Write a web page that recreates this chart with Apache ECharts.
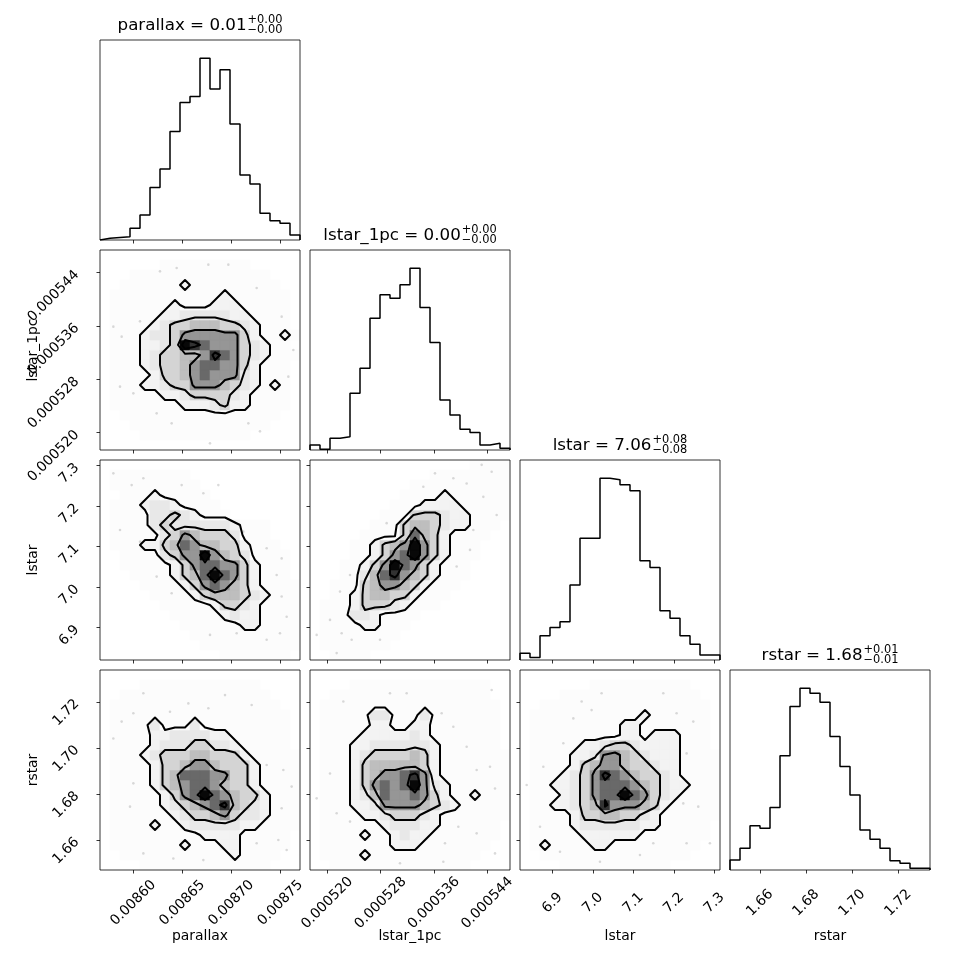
<!DOCTYPE html>
<html lang="en">
<head>
<meta charset="UTF-8">
<title>corner plot</title>
<script src="https://cdn.jsdelivr.net/npm/echarts@6/dist/echarts.min.js"></script>
<style>
    html, body {margin: 0; padding: 0; background: #fff;}
    #main {width: 970px; height: 970px;}
</style>
</head>
<body>
<div id="main"></div>
<script type="text/javascript">
// ---- parameters ----
var paramNames = ['parallax', 'lstar_1pc', 'lstar', 'rstar'];
var paramRanges = [[0.008566, 0.008770], [0.0005174, 0.0005474], [6.820, 7.314], [1.647, 1.7338]];
var paramTicks = [
    [0.00860, 0.00865, 0.00870, 0.00875],
    [0.000520, 0.000528, 0.000536, 0.000544],
    [6.9, 7.0, 7.1, 7.2, 7.3],
    [1.66, 1.68, 1.70, 1.72]
];
var tickDecimals = [5, 6, 1, 2];
var titleValues = ['0.01', '0.00', '7.06', '1.68'];
var titlePlus = ['0.00', '0.00', '0.08', '0.01'];
var titleMinus = ['0.00', '0.00', '0.08', '0.01'];

// ---- 1d histograms (20 bins over the range) ----
var histParallax = [2, 3, 4, 14, 30, 63, 85, 130, 165, 172, 218, 181, 204, 139, 78, 67, 32, 23, 20, 6];
var histLstar1pc = [6, 1, 14, 16, 68, 98, 158, 186, 182, 198, 218, 171, 129, 60, 42, 25, 21, 6, 8, 2];
var histLstar = [8, 3, 29, 39, 46, 90, 146, 146, 218, 216, 210, 203, 119, 111, 59, 50, 29, 19, 6, 6];
var histRstar = [12, 26, 53, 50, 75, 137, 196, 218, 212, 201, 160, 124, 90, 48, 37, 26, 11, 8, 2, 2];

// ---- 2d histograms, 20x20, rows listed top (high y) to bottom, density level 0-9 ----
var gridParallaxLstar1pc = [
    "00000000000000000000",
    "00000011111111100000",
    "00011111111111111000",
    "00111111211111111100",
    "01111111111121111110",
    "01111112111222111110",
    "01111122333332211110",
    "01111234455544321110",
    "01112334666666421121",
    "01112234987666432110",
    "01112344556876432111",
    "01112344567766421110",
    "01111244567666321110",
    "01112234466654321210",
    "01111122344443211110",
    "01111111222342211110",
    "00111111111111111100",
    "00011111111111111000",
    "00001111111111100000",
    "00000000000000000000"
];
var gridParallaxLstar = [
    "00000000000000000000",
    "01111111100000000000",
    "01111111110000000000",
    "00111211111000000000",
    "01112332111100000000",
    "01111334321110000000",
    "01111343333332111000",
    "01111134654443111000",
    "01112245765544211100",
    "00111134669654311110",
    "00111112467766421110",
    "00011112457976421110",
    "00001111246765421111",
    "00000111124555432111",
    "00000011111244321111",
    "00000001111123221111",
    "00000000111111221111",
    "00000000011111111111",
    "00000000001111111111",
    "00000000000011111110"
];
var gridLstar1pcLstar = [
    "00000000000000001111",
    "00000000000011111111",
    "00000000001111111111",
    "00000000011112111111",
    "00000000111222211111",
    "00000001114443221111",
    "00000011145543221110",
    "00000111147542111100",
    "00001124569642111000",
    "00001124679642111000",
    "00011246976421110000",
    "00011357865421110000",
    "00111456654211100000",
    "00112455442111000000",
    "01112444321110000000",
    "01113321111000000000",
    "01111221110000000000",
    "01111111100000000000",
    "01111111000000000000",
    "00111100000000000000"
];
var gridParallaxRstar = [
    "00000000000000000000",
    "00001111111111110000",
    "00111111111111111000",
    "01111111111111111100",
    "01111111111111111110",
    "01111311131111111110",
    "01111223333221111110",
    "01111233344332111110",
    "01112344455444211111",
    "01111244566544421111",
    "01111245777664421111",
    "01111245677654421111",
    "01111124679765442111",
    "01111123456785432111",
    "01111112344564332111",
    "01111211233333221111",
    "01111111112222111110",
    "01111111211122111110",
    "00111111111112111100",
    "00001111111111111000"
];
var gridLstar1pcRstar = [
    "00000000000000000000",
    "00001111111111111100",
    "00111111111111111100",
    "01111111111111111110",
    "01111133111311111110",
    "01111122112211111110",
    "01111222223211111110",
    "01112233333321111110",
    "01112344445421111111",
    "01112455555421111111",
    "01112456678621111111",
    "01112467679632111111",
    "01112357667642112111",
    "01112236666543211111",
    "01111223444321111111",
    "01111112333221111110",
    "01111211232211111110",
    "01111111222111111100",
    "01111211111111111000",
    "00111111111111110000"
];
var gridLstarRstar = [
    "00000000000000000000",
    "00000001111111111000",
    "00001111111111111100",
    "00111111111111111110",
    "01111111111121111110",
    "01111111112211111110",
    "01111111112212221110",
    "01111122344322221110",
    "01111223665432221111",
    "01111245665443221111",
    "01112346876544321111",
    "01122346777654322111",
    "01112346779764321111",
    "01122345866654211111",
    "01111244554432111111",
    "01111233333322111110",
    "01111122222211111110",
    "01211112211111111100",
    "00111111111111111000",
    "00001111111111100000"
];

// ---- stray samples outside the outer contour, [x, y] in data units ----
var dotsParallaxLstar1pc = [
    [0.0086272, 0.0005442], [0.0086442, 0.0005447], [0.0086765, 0.0005452], [0.0086969, 0.0005452],
    [0.0086068, 0.0005367], [0.0085796, 0.0005359], [0.0085881, 0.0005344], [0.0087513, 0.0005374],
    [0.0087632, 0.0005324], [0.0087581, 0.0005284], [0.0087479, 0.0005269], [0.0085864, 0.0005269],
    [0.0086000, 0.0005259], [0.0086238, 0.0005229], [0.0086391, 0.0005214], [0.0086782, 0.0005184],
    [0.0087173, 0.0005214], [0.0087292, 0.0005202], [0.0087258, 0.0005417]
];
var dotsParallaxLstar = [
    [0.0085796, 7.281], [0.0085983, 7.252], [0.0086102, 7.269], [0.0086493, 7.252], [0.0086714, 7.232],
    [0.0086867, 7.252], [0.0085864, 7.141], [0.0086068, 7.112], [0.0087122, 7.137], [0.0087360, 7.096],
    [0.0087513, 7.071], [0.0087462, 7.030], [0.0087513, 6.977], [0.0087564, 6.927], [0.0087496, 6.886],
    [0.0087360, 6.870], [0.0087054, 6.886], [0.0086782, 6.882], [0.0086391, 6.985], [0.0086238, 7.026]
];
var dotsLstar1pcLstar = [
    [0.00054315, 7.302], [0.00054465, 7.285], [0.00053615, 7.281], [0.0005389, 7.269], [0.0005344, 7.248],
    [0.0005409, 7.256], [0.0005434, 7.223], [0.0005454, 7.178], [0.0005419, 7.141], [0.0005414, 7.092],
    [0.0005394, 7.051], [0.0005289, 7.158], [0.0005234, 7.030], [0.0005219, 6.989], [0.0005204, 6.919],
    [0.0005184, 6.882], [0.00052215, 6.886], [0.00052365, 6.870], [0.0005279, 6.870], [0.0005214, 6.837]
];
var dotsParallaxRstar = [
    [0.0086102, 1.7237], [0.0086561, 1.7193], [0.0086765, 1.7172], [0.0086935, 1.7229], [0.0087207, 1.7186],
    [0.0086000, 1.7150], [0.0086374, 1.7157], [0.0085881, 1.7114], [0.0085796, 1.7041], [0.0087360, 1.6926],
    [0.0087530, 1.6904], [0.0087615, 1.6832], [0.0086000, 1.6846], [0.0085966, 1.6745], [0.0087513, 1.6738],
    [0.0087479, 1.6600], [0.0087564, 1.6557], [0.0086102, 1.6542], [0.0086408, 1.6520], [0.0086714, 1.6513],
    [0.0087258, 1.6586]
];
var dotsLstar1pcRstar = [
    [0.0005224, 1.7201], [0.0005294, 1.7237], [0.0005319, 1.7237], [0.00053715, 1.7150], [0.00054465, 1.7251],
    [0.0005389, 1.7092], [0.0005409, 1.7005], [0.0005444, 1.6918], [0.0005424, 1.6904], [0.00054515, 1.6824],
    [0.0005204, 1.6889], [0.0005184, 1.6781], [0.0005214, 1.6716], [0.0005234, 1.6680], [0.00053965, 1.6658],
    [0.0005424, 1.6629], [0.00054515, 1.6542], [0.00053765, 1.6586], [0.0005374, 1.6506], [0.0005309, 1.6499]
];
var dotsLstarRstar = [
    [7.0216, 1.7237], [6.9723, 1.7201], [6.9969, 1.7164], [7.1739, 1.7237], [7.2068, 1.7150],
    [7.2480, 1.7114], [6.9517, 1.7128], [6.9270, 1.7020], [6.8776, 1.6918], [6.8365, 1.6839],
    [7.2315, 1.6976], [7.2233, 1.6759], [7.2603, 1.6745], [7.2891, 1.6586], [7.2315, 1.6586],
    [7.1492, 1.6586], [7.1163, 1.6535], [7.0175, 1.6506], [6.9188, 1.6549], [6.8694, 1.6658]
];

var histList = [histParallax, histLstar1pc, histLstar, histRstar];
// [row, col, grid, dots]
var pairList = [
    [1, 0, gridParallaxLstar1pc, dotsParallaxLstar1pc],
    [2, 0, gridParallaxLstar, dotsParallaxLstar],
    [2, 1, gridLstar1pcLstar, dotsLstar1pcLstar],
    [3, 0, gridParallaxRstar, dotsParallaxRstar],
    [3, 1, gridLstar1pcRstar, dotsLstar1pcRstar],
    [3, 2, gridLstarRstar, dotsLstarRstar]
];
var cellShades = [255, 252, 243, 232, 212, 190, 150, 105, 50, 8];
var contourLevels = [1.5, 3.5, 5.5, 7.5];

var FONT = 'DejaVu Sans';
var PANEL = 200, GAP = 10, LEFT = 100, TOP = 40;

function shadeColor(v) {
    var g = cellShades[v];
    return 'rgb(' + g + ',' + g + ',' + g + ')';
}

// rows (top->bottom strings) -> V[i][j], i = x bin, j = y bin from bottom
function parseGrid(rows) {
    var n = rows.length, m = rows[0].length, V = [];
    for (var i = 0; i < m; i++) {
        V.push([]);
        for (var j = 0; j < n; j++) {
            V[i].push(parseInt(rows[n - 1 - j].charAt(i), 10) || 0);
        }
    }
    return V;
}

// marching squares on bin centres, padded with zeros
function contourLines(V, xr, yr, level) {
    var nx = V.length, ny = V[0].length;
    var dx = (xr[1] - xr[0]) / nx, dy = (yr[1] - yr[0]) / ny;
    function P(i, j) {
        i -= 1; j -= 1;
        if (i < 0 || j < 0 || i >= nx || j >= ny) return 0;
        return V[i][j];
    }
    function xc(i) { return xr[0] + (i - 0.5) * dx; }
    function yc(j) { return yr[0] + (j - 0.5) * dy; }
    function pt(key) {
        var p = key.split(','), i = +p[1], j = +p[2], a, b;
        if (p[0] === 'h') {
            a = P(i, j); b = P(i + 1, j);
            return [xc(i) + (level - a) / (b - a) * dx, yc(j)];
        }
        a = P(i, j); b = P(i, j + 1);
        return [xc(i), yc(j) + (level - a) / (b - a) * dy];
    }
    var segs = [];
    for (var i = 0; i <= nx; i++) {
        for (var j = 0; j <= ny; j++) {
            var a = P(i, j), b = P(i + 1, j), c = P(i + 1, j + 1), d = P(i, j + 1);
            var B = 'h,' + i + ',' + j, T = 'h,' + i + ',' + (j + 1);
            var L = 'v,' + i + ',' + j, R = 'v,' + (i + 1) + ',' + j;
            var k = (a >= level ? 1 : 0) | (b >= level ? 2 : 0) | (c >= level ? 4 : 0) | (d >= level ? 8 : 0);
            var mid = (a + b + c + d) / 4 >= level;
            switch (k) {
                case 1: case 14: segs.push([L, B]); break;
                case 2: case 13: segs.push([B, R]); break;
                case 3: case 12: segs.push([L, R]); break;
                case 4: case 11: segs.push([R, T]); break;
                case 6: case 9: segs.push([B, T]); break;
                case 7: case 8: segs.push([L, T]); break;
                case 5:
                    if (mid) { segs.push([B, R]); segs.push([T, L]); }
                    else { segs.push([L, B]); segs.push([R, T]); }
                    break;
                case 10:
                    if (mid) { segs.push([L, B]); segs.push([R, T]); }
                    else { segs.push([B, R]); segs.push([T, L]); }
                    break;
            }
        }
    }
    var byKey = {};
    segs.forEach(function (s, idx) {
        (byKey[s[0]] = byKey[s[0]] || []).push(idx);
        (byKey[s[1]] = byKey[s[1]] || []).push(idx);
    });
    var used = segs.map(function () { return false; });
    function extend(arr, atEnd) {
        while (true) {
            var key = atEnd ? arr[arr.length - 1] : arr[0];
            var nxt = (byKey[key] || []).filter(function (q) { return !used[q]; });
            if (!nxt.length) break;
            var q = nxt[0];
            used[q] = true;
            var other = segs[q][0] === key ? segs[q][1] : segs[q][0];
            if (atEnd) arr.push(other); else arr.unshift(other);
        }
    }
    var lines = [];
    for (var s = 0; s < segs.length; s++) {
        if (used[s]) continue;
        used[s] = true;
        var chain = [segs[s][0], segs[s][1]];
        extend(chain, true);
        extend(chain, false);
        lines.push(chain.map(pt));
    }
    return lines;
}

function fmt(p) {
    return function (v) { return v.toFixed(tickDecimals[p]); };
}

var grids = [], xAxes = [], yAxes = [], series = [];

function addGrid(row, col) {
    grids.push({
        left: LEFT + col * (PANEL + GAP), top: TOP + row * (PANEL + GAP),
        width: PANEL, height: PANEL,
        show: true, borderColor: '#000', borderWidth: 0.8,
        backgroundColor: 'rgba(0,0,0,0)', containLabel: false, outerBoundsMode: 'none', z: 10
    });
    return grids.length - 1;
}

function xAxisFor(g, p, labels) {
    return {
        type: 'value', gridIndex: g, min: paramRanges[p][0], max: paramRanges[p][1],
        axisLine: {show: false}, splitLine: {show: false},
        axisTick: {show: true, length: 3.5, lineStyle: {color: '#000', width: 0.8}, customValues: paramTicks[p]},
        axisLabel: {
            show: labels, customValues: paramTicks[p], rotate: 45, align: 'center', verticalAlign: 'middle',
            margin: 33, fontSize: 13.9, color: '#000', fontFamily: FONT, formatter: fmt(p)
        }
    };
}

function yAxisFor(g, p, labels) {
    return {
        type: 'value', gridIndex: g, min: paramRanges[p][0], max: paramRanges[p][1],
        axisLine: {show: false}, splitLine: {show: false},
        axisTick: {show: true, length: 3.5, lineStyle: {color: '#000', width: 0.8}, customValues: paramTicks[p]},
        axisLabel: {
            show: labels, customValues: paramTicks[p], rotate: 45, align: 'right', verticalAlign: 'middle',
            margin: 23, fontSize: 13.9, color: '#000', fontFamily: FONT, formatter: fmt(p)
        }
    };
}

// diagonal: 1d histograms
histList.forEach(function (counts, k) {
    var g = addGrid(k, k);
    var xr = paramRanges[k], n = counts.length, dx = (xr[1] - xr[0]) / n;
    var peak = Math.max.apply(null, counts);
    xAxes.push(xAxisFor(g, k, k === 3));
    yAxes.push({type: 'value', gridIndex: g, min: 0, max: 1.1 * peak, show: false});
    var data = [[xr[0], 0]];
    for (var i = 0; i < n; i++) data.push([xr[0] + i * dx, counts[i]]);
    data.push([xr[1], counts[n - 1]]);
    data.push([xr[1], 0]);
    series.push({
        type: 'line', xAxisIndex: g, yAxisIndex: g, data: data, step: 'end',
        symbol: 'none', lineStyle: {color: '#000', width: 1.5}, silent: true, z: 3
    });
});

// off-diagonal: 2d histograms with contours
pairList.forEach(function (pr) {
    var row = pr[0], col = pr[1];
    var g = addGrid(row, col);
    var xr = paramRanges[col], yr = paramRanges[row];
    xAxes.push(xAxisFor(g, col, row === 3));
    yAxes.push(yAxisFor(g, row, col === 0));
    var V = parseGrid(pr[2]);
    var nx = V.length, ny = V[0].length;
    var dx = (xr[1] - xr[0]) / nx, dy = (yr[1] - yr[0]) / ny;
    var cells = [];
    for (var i = 0; i < nx; i++) {
        for (var j = 0; j < ny; j++) {
            if (V[i][j] > 0) {
                cells.push([xr[0] + i * dx, xr[0] + (i + 1) * dx, yr[0] + j * dy, yr[0] + (j + 1) * dy, V[i][j]]);
            }
        }
    }
    series.push({
        type: 'custom', xAxisIndex: g, yAxisIndex: g, data: cells, clip: true, silent: true, z: 1,
        encode: {x: [0, 1], y: [2, 3]},
        renderItem: function (params, api) {
            var p0 = api.coord([api.value(0), api.value(3)]);
            var p1 = api.coord([api.value(1), api.value(2)]);
            var c = shadeColor(api.value(4));
            return {
                type: 'rect',
                shape: {x: p0[0], y: p0[1], width: p1[0] - p0[0], height: p1[1] - p0[1]},
                style: {fill: c, stroke: c, lineWidth: 0.6}
            };
        }
    });
    series.push({
        type: 'scatter', xAxisIndex: g, yAxisIndex: g, data: pr[3], symbol: 'circle', symbolSize: 2.6,
        itemStyle: {color: 'rgba(0,0,0,0.18)'}, silent: true, z: 2
    });
    var lineData = [];
    contourLevels.forEach(function (lv) {
        contourLines(V, xr, yr, lv).forEach(function (ln) {
            ln.forEach(function (p) { lineData.push(p); });
            lineData.push(['-', '-']);
        });
    });
    series.push({
        type: 'line', xAxisIndex: g, yAxisIndex: g, data: lineData, connectNulls: false,
        symbol: 'none', lineStyle: {color: '#000', width: 2, join: 'round', cap: 'round'},
        silent: true, z: 3
    });
});

// titles with super/subscripts, axis names
var measureCtx = document.createElement('canvas').getContext('2d');
function textWidth(s, size) {
    measureCtx.font = size + 'px "' + FONT + '"';
    return measureCtx.measureText(s).width;
}
var graphics = [];
function textEl(str, x, y, size, align, rot) {
    return {
        type: 'text', x: x, y: y, rotation: rot || 0, silent: true, z: 20,
        style: {
            text: str, x: 0, y: 0, fill: '#000', font: size + 'px "' + FONT + '"',
            align: align, textAlign: align, verticalAlign: 'middle', textVerticalAlign: 'middle'
        }
    };
}
paramNames.forEach(function (name, k) {
    var cx = LEFT + k * (PANEL + GAP) + PANEL / 2;
    var top = TOP + k * (PANEL + GAP);
    var main = name + ' = ' + titleValues[k];
    var sup = '+' + titlePlus[k], sub = '\u2212' + titleMinus[k];
    var w1 = textWidth(main, 16.7);
    var w2 = Math.max(textWidth(sup, 11.4), textWidth(sub, 11.4));
    var x0 = cx - (w1 + 1 + w2) / 2;
    graphics.push(textEl(main, x0, top - 14, 16.7, 'left'));
    graphics.push(textEl(sup, x0 + w1 + 1, top - 20, 11.4, 'left'));
    graphics.push(textEl(sub, x0 + w1 + 1, top - 9.5, 11.4, 'left'));
    // x axis name under the bottom row
    graphics.push(textEl(name, cx, TOP + 3 * (PANEL + GAP) + PANEL + 66, 13.9, 'center'));
    if (k > 0) {
        graphics.push(textEl(name, 33, TOP + k * (PANEL + GAP) + PANEL / 2, 13.9, 'center', Math.PI / 2));
    }
});

var chart = echarts.init(document.getElementById('main'), null, {renderer: 'canvas'});
chart.setOption({
    animation: false,
    backgroundColor: '#fff',
    textStyle: {fontFamily: FONT},
    grid: grids,
    xAxis: xAxes,
    yAxis: yAxes,
    series: series,
    graphic: graphics
});
</script>
</body>
</html>
